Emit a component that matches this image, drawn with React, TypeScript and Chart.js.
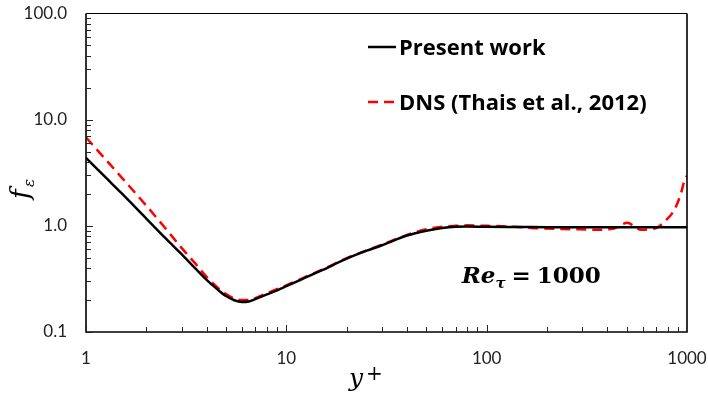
import { useEffect, useRef } from 'react';
import { Chart, registerables } from 'chart.js';

Chart.register(...registerables);

// Present work: damping function f_eps against y+
const yPlusModel = [1, 1.25, 1.5, 2, 2.5, 3, 3.5, 4, 4.5, 5, 5.5, 6, 6.5, 7, 8, 9, 10, 12, 15, 20, 25, 30, 40, 50, 60, 70, 80, 100, 150, 200, 300, 500, 700, 1000];
const fModel = [4.37, 2.87, 2.04, 1.17, 0.76, 0.54, 0.4, 0.31, 0.255, 0.218, 0.199, 0.192, 0.194, 0.204, 0.226, 0.247, 0.27, 0.315, 0.38, 0.49, 0.58, 0.656, 0.81, 0.9, 0.955, 0.98, 0.985, 0.98, 0.975, 0.97, 0.97, 0.97, 0.97, 0.97];

// DNS reference data (Thais et al., 2012)
const yPlusDns = [1, 1.25, 1.5, 2, 2.5, 3, 3.5, 4, 4.5, 5, 5.5, 6, 6.5, 7, 8, 10, 12, 15, 20, 30, 40, 50, 60, 70, 80, 100, 137, 187, 262, 358, 432, 505, 545, 589, 650, 713, 770, 864, 933, 977, 1000];
const fDns = [6.8, 4.24, 2.88, 1.55, 0.94, 0.62, 0.445, 0.33, 0.266, 0.228, 0.207, 0.2, 0.2, 0.208, 0.232, 0.275, 0.32, 0.385, 0.495, 0.665, 0.82, 0.93, 0.98, 1.0, 1.01, 1.0, 0.98, 0.945, 0.93, 0.92, 0.945, 1.07, 0.99, 0.92, 0.93, 0.966, 1.09, 1.41, 2.02, 2.79, 2.95];

const xTickValues = [1, 10, 100, 1000];
const yTickValues = [0.1, 1, 10, 100];
const seriesLabels = ['Present work', 'DNS (Thais et al., 2012)'];
const reTau = '1000';

const tickFont = { family: 'Lato', size: 17 };

const decorations = {
  id: 'decorations',
  afterDatasetsDraw(chart: any) {
    const { ctx, chartArea: a, scales } = chart;
    const xs = scales.x;
    const ys = scales.y;
    ctx.save();

    // frame
    ctx.strokeStyle = '#000';
    ctx.lineWidth = 1.2;
    ctx.beginPath();
    ctx.moveTo(a.left, a.top);
    ctx.lineTo(a.right, a.top);
    ctx.stroke();
    ctx.lineWidth = 1.6;
    ctx.beginPath();
    ctx.moveTo(a.left, a.top);
    ctx.lineTo(a.left, a.bottom);
    ctx.lineTo(a.right, a.bottom);
    ctx.lineTo(a.right, a.top);
    ctx.stroke();

    // inward major/minor tick marks on log axes
    ctx.lineWidth = 1;
    ctx.strokeStyle = '#222';
    ctx.beginPath();
    for (let d = 0.1; d < 100; d *= 10) {
      for (let k = 1; k <= 9; k++) {
        const py = Math.round(ys.getPixelForValue(k * d)) + 0.5;
        const len = k === 1 ? 7 : 5;
        ctx.moveTo(a.left, py);
        ctx.lineTo(a.left + len, py);
      }
    }
    for (let d = 1; d < 1000; d *= 10) {
      for (let k = 1; k <= 9; k++) {
        const px = Math.round(xs.getPixelForValue(k * d)) + 0.5;
        const len = k === 1 ? 7 : 5;
        ctx.moveTo(px, a.bottom);
        ctx.lineTo(px, a.bottom - len);
      }
    }
    ctx.stroke();

    // legend
    const ds = chart.data.datasets;
    const lx = a.left + 282;
    const rows = [a.top + 33.5, a.top + 88.5];
    ctx.font = 'bold 22px "Open Sans"';
    ctx.textBaseline = 'alphabetic';
    ctx.textAlign = 'left';
    ds.forEach((d: any, i: number) => {
      const y = rows[i];
      ctx.strokeStyle = d.borderColor;
      ctx.lineWidth = 2.5;
      ctx.setLineDash(d.borderDash || []);
      ctx.beginPath();
      ctx.moveTo(lx, y);
      ctx.lineTo(lx + 28, y);
      ctx.stroke();
      ctx.setLineDash([]);
      ctx.fillStyle = '#000';
      ctx.fillText(d.label, lx + 31, y + 8.3);
    });

    // Re_tau annotation
    ctx.fillStyle = '#000';
    let tx = a.left + 375.7;
    const ty = 283.3;
    ctx.font = 'italic bold 23px "DejaVu Serif"';
    ctx.fillText('Re', tx, ty);
    tx += ctx.measureText('Re').width;
    ctx.font = 'italic bold 15px "DejaVu Serif"';
    ctx.fillText('τ', tx, ty + 5);
    tx += ctx.measureText('τ').width + 6;
    ctx.font = 'bold 23px "DejaVu Serif"';
    ctx.fillText('=', tx, ty);
    tx += ctx.measureText('=').width + 6;
    ctx.fillText(reTau, tx, ty);

    // x-axis title: y+
    ctx.font = 'italic 25px "DejaVu Serif"';
    ctx.fillText('y', 349, 386);
    ctx.font = '20px "DejaVu Serif"';
    ctx.fillText('+', 366, 380);

    // y-axis title: f_eps
    ctx.translate(29, 199);
    ctx.rotate(-Math.PI / 2);
    ctx.font = 'italic 26px "DejaVu Serif"';
    ctx.fillText('f', 0, 0);
    ctx.font = 'italic 15px "DejaVu Serif"';
    ctx.fillText('ε', 12, 5);

    ctx.restore();
  },
};

function noScalePadding(s: any) {
  s.paddingTop = 0;
  s.paddingBottom = 0;
  s.paddingLeft = 0;
  s.paddingRight = 0;
}

export default function App() {
  const ref = useRef<HTMLCanvasElement>(null);

  useEffect(() => {
    const chart = new Chart(ref.current!, {
      type: 'line',
      data: {
        datasets: [
          {
            label: seriesLabels[0],
            data: yPlusModel.map((x, i) => ({ x, y: fModel[i] })),
            borderColor: '#000000',
            borderWidth: 2.5,
            pointRadius: 0,
            cubicInterpolationMode: 'monotone',
          },
          {
            label: seriesLabels[1],
            data: yPlusDns.map((x, i) => ({ x, y: fDns[i] })),
            borderColor: '#ff0000',
            borderWidth: 2.5,
            borderDash: [10, 6],
            pointRadius: 0,
            cubicInterpolationMode: 'monotone',
          },
        ],
      },
      options: {
        responsive: false,
        animation: false,
        layout: { padding: { top: 13.5, right: 21, left: 0, bottom: 0 } },
        plugins: { legend: { display: false }, tooltip: { enabled: false } },
        scales: {
          x: {
            type: 'logarithmic',
            min: 1,
            max: 1000,
            grid: { display: false, drawTicks: false },
            border: { display: false },
            afterBuildTicks: (s: any) => {
              s.ticks = xTickValues.map((value) => ({ value }));
            },
            afterFit: (s: any) => {
              s.height = 66;
              noScalePadding(s);
            },
            ticks: {
              autoSkip: false,
              maxRotation: 0,
              padding: 16,
              color: '#222',
              font: tickFont,
              callback: (v: any) => String(v),
            },
          },
          y: {
            type: 'logarithmic',
            min: 0.1,
            max: 100,
            grid: { display: false, drawTicks: false },
            border: { display: false },
            afterBuildTicks: (s: any) => {
              s.ticks = yTickValues.map((value) => ({ value }));
            },
            afterFit: (s: any) => {
              s.width = 86;
              noScalePadding(s);
            },
            ticks: {
              autoSkip: false,
              padding: 19,
              color: '#222',
              font: tickFont,
              callback: (v: any) => Number(v).toFixed(1),
            },
          },
        },
      },
      plugins: [decorations],
    });
    return () => chart.destroy();
  }, []);

  return (
    <div style={{ position: 'absolute', left: 0, top: 0, width: 708, height: 398, background: '#fff' }}>
      <canvas ref={ref} width={708} height={398} style={{ display: 'block' }} />
    </div>
  );
}
